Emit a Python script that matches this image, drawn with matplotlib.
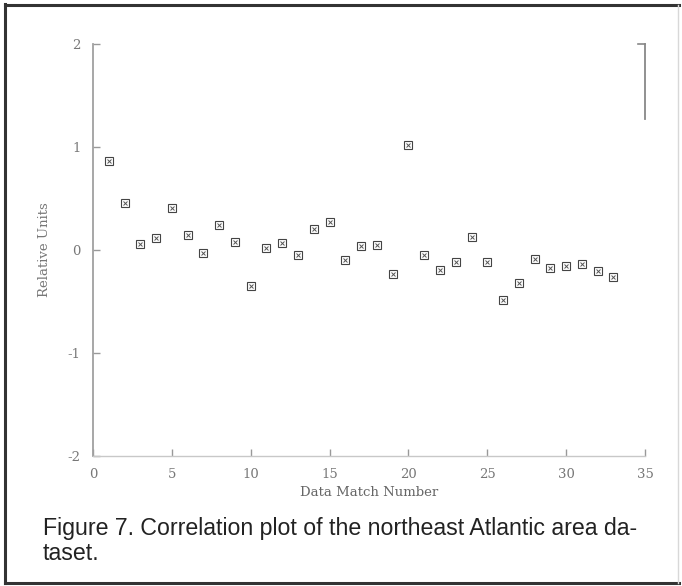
import numpy as np
import matplotlib
matplotlib.use('Agg')
import matplotlib.pyplot as plt
from matplotlib.lines import Line2D

plt.rcParams['axes.unicode_minus'] = False

# correlation value for each data match
match_no = np.arange(1, 34)
rel_units = [0.86, 0.46, 0.06, 0.12, 0.41, 0.15, -0.03, 0.24, 0.08, -0.35,
             0.02, 0.07, -0.05, 0.20, 0.27, -0.10, 0.04, 0.05, -0.23, 1.02,
             -0.05, -0.19, -0.12, 0.13, -0.12, -0.49, -0.32, -0.09, -0.17, -0.16,
             -0.14, -0.20, -0.26]
xticks = [0, 5, 10, 15, 20, 25, 30, 35]
yticks = [-2, -1, 0, 1, 2]
caption1 = "Figure 7. Correlation plot of the northeast Atlantic area da-"
caption2 = "taset."

W, H = 682, 586
fig = plt.figure(figsize=(W/100, H/100), dpi=100)
ax = fig.add_axes([93/W, 1-456/H, (645-93)/W, (456-44)/H])

grey = '#8a8a8a'
ax.plot(match_no, rel_units, ls='none', marker='s', ms=6, mfc='none',
        mec='#444444', mew=0.8)
ax.plot(match_no, rel_units, ls='none', marker='x', ms=3.5,
        mec='#555555', mew=0.7)

ax.set_xlim(0, 35)
ax.set_ylim(-2, 2)
ax.set_xticks(xticks)
ax.set_yticks(yticks)
ax.set_xticklabels([str(t) for t in xticks], family='DejaVu Serif', fontsize=9.5, color='#777777')
ax.set_yticklabels([str(t) for t in yticks], family='DejaVu Serif', fontsize=9.5, color='#777777')
ax.tick_params(axis='both', direction='in', length=5, width=1, color='#999999')
ax.tick_params(axis='x', pad=9)
ax.tick_params(axis='y', pad=9)

ax.set_xlabel('Data Match Number', family='DejaVu Serif', fontsize=9.5,
              color='#666666', labelpad=3)
ax.set_ylabel('Relative Units', family='DejaVu Serif', fontsize=9.5,
              color='#777777', labelpad=12)

for s in ['top']:
    ax.spines[s].set_visible(False)
ax.spines['left'].set_color('#a0a0a0')
ax.spines['left'].set_linewidth(1.3)
ax.spines['bottom'].set_color('#c8c8c8')
ax.spines['bottom'].set_linewidth(1.0)
ax.spines['right'].set_color('#888888')
ax.spines['right'].set_linewidth(1.3)
ax.spines['right'].set_bounds(1.27, 2)
ax.plot([34.55, 35], [2, 2], color='#888888', lw=1.2, clip_on=False)

# outer frame of the figure panel
frame = dict(color='#333333', lw=2.2, transform=fig.transFigure)
fig.add_artist(Line2D([5/W, 5/W], [1-4/H, 1-583/H], **frame))
fig.add_artist(Line2D([5/W, 1-3/W], [1-5/H, 1-5/H], **frame))
fig.add_artist(Line2D([5/W, 1-3/W], [1-583/H, 1-583/H], **frame))
fig.add_artist(Line2D([1-4/W, 1-4/W], [1-5/H, 1-583/H], color='#d8d8d8', lw=1,
                      transform=fig.transFigure))

# caption, sized so the first line spans the panel
cap_kw = dict(family='Liberation Sans', color='#222222', va='baseline', ha='left')
t1 = fig.text(43/W, 1-535/H, caption1, fontsize=14, **cap_kw)
fig.canvas.draw()
w = t1.get_window_extent().width
fs = 14 * 600 / w
t1.set_fontsize(fs)
fig.text(43/W, 1-560/H, caption2, fontsize=fs, **cap_kw)

fig.savefig('out.png', dpi=100)
